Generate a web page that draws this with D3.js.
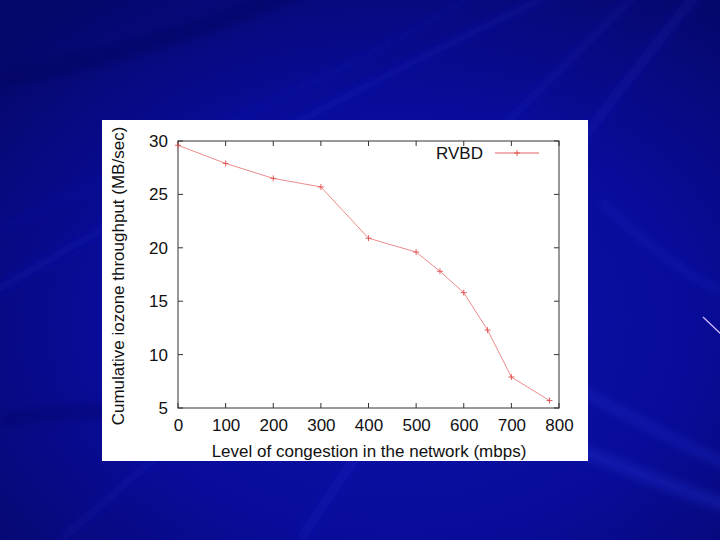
<!DOCTYPE html>
<html>
<head>
<meta charset="utf-8">
<script src="https://cdn.jsdelivr.net/npm/d3@7"></script>
<style>
html,body{margin:0;padding:0;background:#0a0c96;}
svg{display:block;}
text{font-family:"Liberation Sans",Arial,Helvetica,sans-serif;}
</style>
</head>
<body>
<svg id="chart" width="720" height="540"></svg>
<script>
// ---- data ----
const congestion = [0, 100, 200, 300, 400, 500, 550, 600, 650, 700, 780];
const throughput = [29.6, 27.9, 26.5, 25.7, 20.9, 19.6, 17.8, 15.8, 12.3, 7.9, 5.7];
const seriesName = "RVBD";
const xTicks = [0, 100, 200, 300, 400, 500, 600, 700, 800];
const yTicks = [5, 10, 15, 20, 25, 30];
const xTitle = "Level of congestion in the network (mbps)";
const yTitle = "Cumulative iozone throughput (MB/sec)";

const svg = d3.select("#chart");
const W = 720, H = 540;

// ---- background ----
const defs = svg.append("defs");
const bg = defs.append("radialGradient").attr("id","bgGrad")
  .attr("cx","0.55").attr("cy","0.6").attr("r","0.75");
bg.append("stop").attr("offset","0%").attr("stop-color","#0e14ac");
bg.append("stop").attr("offset","55%").attr("stop-color","#090c98");
bg.append("stop").attr("offset","100%").attr("stop-color","#05076a");
const blur = defs.append("filter").attr("id","blur").attr("x","-20%").attr("y","-20%").attr("width","140%").attr("height","140%");
blur.append("feGaussianBlur").attr("stdDeviation", 5);

svg.append("rect").attr("width",W).attr("height",H).attr("fill","url(#bgGrad)");

const streaks = [
  {d:"M-20,300 C150,200 350,90 560,-10", c:"#2236ff", w:8, o:0.14},
  {d:"M0,230 C180,140 360,70 480,-10", c:"#2236ff", w:6, o:0.10},
  {d:"M60,540 C250,380 450,180 640,-10", c:"#2a3cff", w:8, o:0.12},
  {d:"M300,540 C420,360 560,160 700,-10", c:"#2a3cff", w:10, o:0.14},
  {d:"M560,380 C620,410 670,440 740,470", c:"#3448ff", w:8, o:0.22},
  {d:"M580,450 C630,470 680,490 740,510", c:"#3448ff", w:12, o:0.22},
  {d:"M600,200 C640,240 690,280 740,300", c:"#2a3cff", w:8, o:0.15},
  {d:"M0,420 C150,400 300,410 420,440", c:"#05065a", w:14, o:0.3},
  {d:"M0,80 C100,60 200,30 300,-10", c:"#04064c", w:18, o:0.3}
];
svg.append("g").attr("filter","url(#blur)").selectAll("path").data(streaks).join("path")
  .attr("d", d => d.d).attr("fill","none")
  .attr("stroke", d => d.c).attr("stroke-width", d => d.w).attr("stroke-opacity", d => d.o);

svg.append("line").attr("x1",703).attr("y1",317).attr("x2",722).attr("y2",335)
  .attr("stroke","#d8c0ff").attr("stroke-width",1.2);

// ---- white panel ----
svg.append("rect").attr("x",102).attr("y",120).attr("width",486).attr("height",341).attr("fill","#ffffff");

// ---- scales ----
const x = d3.scaleLinear().domain([0, 800]).range([178, 559]);
const y = d3.scaleLinear().domain([5, 30]).range([408, 141]);

const axisColor = "#333";
const fs = 17;

// frame
svg.append("rect").attr("x",x(0)).attr("y",y(30)).attr("width",x(800)-x(0)).attr("height",y(5)-y(30))
  .attr("fill","none").attr("stroke",axisColor).attr("stroke-width",1);

// tick marks (inward, mirrored)
const tl = 5;
const tg = svg.append("g").attr("stroke",axisColor).attr("stroke-width",1);
tg.selectAll(".xb").data(xTicks).join("line")
  .attr("x1",d=>x(d)).attr("x2",d=>x(d)).attr("y1",y(5)).attr("y2",y(5)-tl);
tg.selectAll(".xt").data(xTicks).join("line")
  .attr("x1",d=>x(d)).attr("x2",d=>x(d)).attr("y1",y(30)).attr("y2",y(30)+tl);
tg.selectAll(".yl").data(yTicks).join("line")
  .attr("y1",d=>y(d)).attr("y2",d=>y(d)).attr("x1",x(0)).attr("x2",x(0)+tl);
tg.selectAll(".yr").data(yTicks).join("line")
  .attr("y1",d=>y(d)).attr("y2",d=>y(d)).attr("x1",x(800)).attr("x2",x(800)-tl);

// axes labels via d3 axes
const xAxis = svg.append("g").attr("transform",`translate(0,${y(5)})`)
  .call(d3.axisBottom(x).tickValues(xTicks).tickSize(0).tickPadding(11).tickFormat(d3.format("d")));
const yAxis = svg.append("g").attr("transform",`translate(${x(0)},0)`)
  .call(d3.axisLeft(y).tickValues(yTicks).tickSize(0).tickPadding(10).tickFormat(d3.format("d")));
[xAxis, yAxis].forEach(a => {
  a.select(".domain").remove();
  a.selectAll("text").attr("font-size",fs).attr("fill","#111")
   .attr("font-family","'Liberation Sans',Arial,sans-serif");
});

// titles
svg.append("text").attr("x",369).attr("y",457).attr("text-anchor","middle")
  .attr("font-size",fs).attr("fill","#111").text(xTitle);
svg.append("text").attr("transform","translate(124,276) rotate(-90)").attr("text-anchor","middle")
  .attr("font-size",fs).attr("fill","#111").text(yTitle);

// ---- series ----
const data = congestion.map((c,i) => ({c, v: throughput[i]}));
const red = "#e04848";
svg.append("path").datum(data)
  .attr("d", d3.line().x(d=>x(d.c)).y(d=>y(d.v)))
  .attr("fill","none").attr("stroke",red).attr("stroke-width",0.8).attr("stroke-opacity",0.8);
const ms = 3;
const mk = svg.append("g").attr("stroke",red).attr("stroke-width",1).attr("stroke-opacity",0.85);
mk.selectAll("path").data(data).join("path")
  .attr("d", d => `M${x(d.c)-ms},${y(d.v)}H${x(d.c)+ms}M${x(d.c)},${y(d.v)-ms}V${y(d.v)+ms}`);

// ---- legend ----
svg.append("text").attr("x",483).attr("y",159).attr("text-anchor","end")
  .attr("font-size",fs).attr("fill","#111").text(seriesName);
svg.append("line").attr("x1",495).attr("x2",539).attr("y1",153).attr("y2",153)
  .attr("stroke",red).attr("stroke-width",1).attr("stroke-opacity",0.85);
svg.append("path").attr("d",`M${517-ms},153H${517+ms}M517,${153-ms}V${153+ms}`)
  .attr("stroke",red).attr("stroke-width",1).attr("stroke-opacity",0.85);
</script>
</body>
</html>
